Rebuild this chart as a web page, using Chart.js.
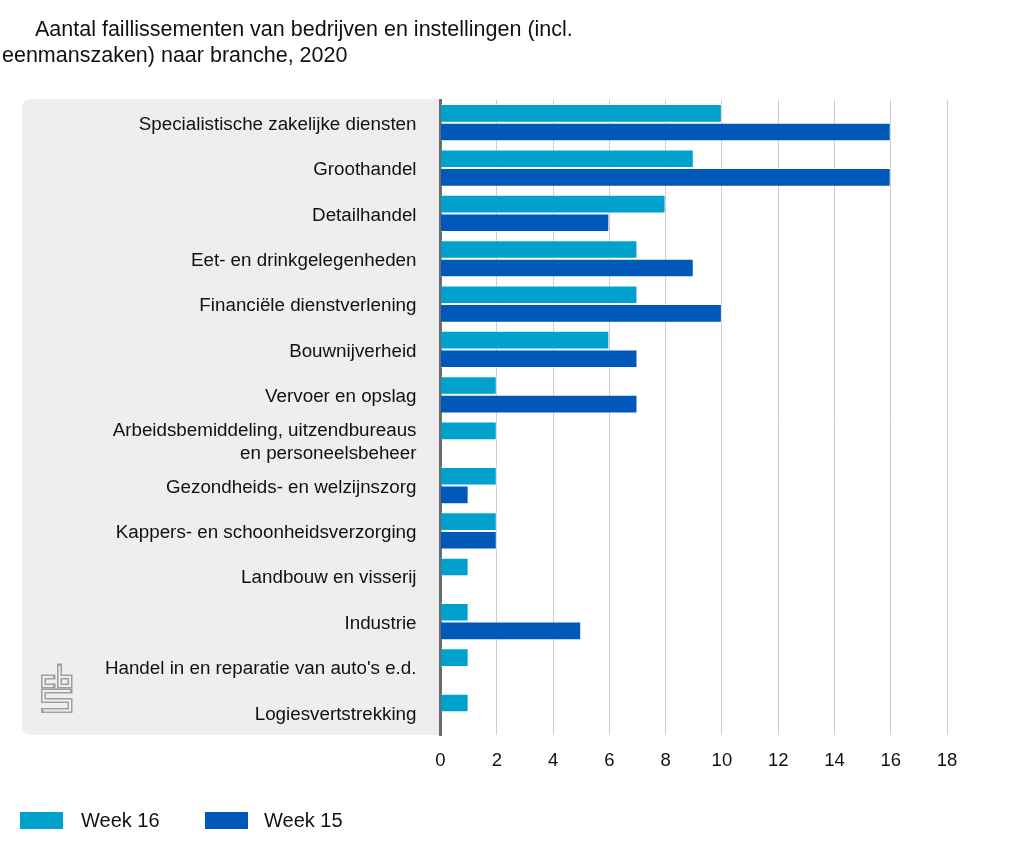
<!DOCTYPE html>
<html>
<head>
<meta charset="utf-8">
<script src="https://cdn.jsdelivr.net/npm/chart.js@4/dist/chart.umd.min.js"></script>
<style>
  html, body { margin: 0; padding: 0; background: #fff; }
  body { width: 1024px; height: 853px; position: relative; overflow: hidden; font-family: "Liberation Sans", Arial, Helvetica, sans-serif; color: #111; }
  #wrap { position: absolute; left: 0; top: 0; width: 1024px; height: 853px; }
  .t { position: absolute; font-size: 21.5px; line-height: 26px; white-space: nowrap; color: #111; }
  .lg-box { position: absolute; width: 43px; height: 17px; }
  .lg-txt { position: absolute; font-size: 20px; line-height: 24px; white-space: nowrap; color: #111; }
</style>
</head>
<body>
<div id="wrap"><canvas id="c"></canvas></div>
<div class="t" style="left:35px; top:16px;">Aantal faillissementen van bedrijven en instellingen (incl.</div>
<div class="t" style="left:2px; top:42px;">eenmanszaken) naar branche, 2020</div>
<div id="legend"></div>
<script>
const categories = [
  "Specialistische zakelijke diensten",
  "Groothandel",
  "Detailhandel",
  "Eet- en drinkgelegenheden",
  "Financiële dienstverlening",
  "Bouwnijverheid",
  "Vervoer en opslag",
  ["Arbeidsbemiddeling, uitzendbureaus", "en personeelsbeheer"],
  "Gezondheids- en welzijnszorg",
  "Kappers- en schoonheidsverzorging",
  "Landbouw en visserij",
  "Industrie",
  "Handel in en reparatie van auto's e.d.",
  "Logiesvertstrekking"
];
const seriesNames = ["Week 16", "Week 15"];
const week16 = [10, 9, 8, 7, 7, 6, 2, 2, 2, 2, 1, 1, 1, 1];
const week15 = [16, 16, 6, 9, 10, 7, 7, 0, 1, 2, 0, 5, 0, 0];
const seriesColors = ["#00a1cd", "#0058b8"];
const xTicks = [0, 2, 4, 6, 8, 10, 12, 14, 16, 18];

// legend (HTML)
const legendPos = [[20, 81], [205, 264]];
const lg = document.getElementById('legend');
seriesNames.forEach((n, i) => {
  const b = document.createElement('div');
  b.className = 'lg-box';
  b.style.left = legendPos[i][0] + 'px';
  b.style.top = '812px';
  b.style.background = seriesColors[i];
  lg.appendChild(b);
  const t = document.createElement('div');
  t.className = 'lg-txt';
  t.style.left = legendPos[i][1] + 'px';
  t.style.top = '808px';
  t.textContent = n;
  lg.appendChild(t);
});

const panelPlugin = {
  id: 'panel',
  beforeDraw(chart) {
    const ctx = chart.ctx;
    const a = chart.chartArea;
    const x0 = 22, x1 = a.left, y0 = a.top - 1, y1 = a.bottom, r = 10;
    ctx.save();
    ctx.fillStyle = '#eeeeee';
    ctx.beginPath();
    ctx.moveTo(x1, y0);
    ctx.lineTo(x0 + r, y0);
    ctx.quadraticCurveTo(x0, y0, x0, y0 + r);
    ctx.lineTo(x0, y1 - r);
    ctx.quadraticCurveTo(x0, y1, x0 + r, y1);
    ctx.lineTo(x1, y1);
    ctx.closePath();
    ctx.fill();
    // cbs logo (outlined glyphs)
    const ox = 41, oy = 665;
    const paths = [
      [[12, 12], [2.5, 12], [2.5, 21], [12, 21]],
      [[18.5, 1], [18.5, 21], [29, 21], [29, 12], [18.5, 12]],
      [[29, 26], [2.5, 26], [2.5, 35.5], [29, 35.5], [29, 45.5], [2.5, 45.5]]
    ];
    const drawPaths = (w, col, cap) => {
      ctx.strokeStyle = col;
      ctx.lineWidth = w;
      ctx.lineJoin = 'miter';
      ctx.lineCap = cap;
      paths.forEach(p => {
        ctx.beginPath();
        p.forEach((pt, k) => k ? ctx.lineTo(ox + pt[0], oy + pt[1]) : ctx.moveTo(ox + pt[0], oy + pt[1]));
        ctx.stroke();
      });
    };
    drawPaths(5, '#a0a0a0', 'square');
    drawPaths(2, '#eeeeee', 'butt');
    ctx.restore();
  }
};

new Chart(document.getElementById('c'), {
  type: 'bar',
  data: {
    labels: categories,
    datasets: [
      { label: seriesNames[0], data: week16, backgroundColor: seriesColors[0] },
      { label: seriesNames[1], data: week15, backgroundColor: seriesColors[1] }
    ]
  },
  options: {
    indexAxis: 'y',
    responsive: true,
    maintainAspectRatio: false,
    animation: false,
    datasets: {
      bar: {
        categoryPercentage: 0.82,
        barPercentage: 1.0,
        borderWidth: ctx => (ctx.raw ? 1 : 0),
        borderColor: 'rgba(255,255,255,0.45)',
        borderSkipped: 'start'
      }
    },
    layout: { padding: { left: 22, right: 77, top: 100, bottom: 78 } },
    plugins: {
      legend: { display: false },
      title: { display: false },
      tooltip: { enabled: false }
    },
    scales: {
      x: {
        type: 'linear',
        min: 0,
        max: 18,
        afterFit: s => { s.height = 40; },
        afterBuildTicks: s => { s.ticks = xTicks.map(v => ({ value: v })); },
        ticks: {
          padding: 15,
          color: '#111',
          font: { family: '"Liberation Sans", Arial, sans-serif', size: 18.5 }
        },
        grid: {
          drawTicks: false,
          color: ctx => (ctx.tick && ctx.tick.value === 0 ? 'rgba(0,0,0,0)' : '#cccccc'),
          lineWidth: 1
        },
        border: { display: false }
      },
      y: {
        z: 1,
        afterFit: s => { s.width = 418.5; },
        ticks: {
          autoSkip: false,
          padding: 24,
          labelOffset: 2,
          color: '#111',
          font: { family: '"Liberation Sans", Arial, sans-serif', size: 18.8, lineHeight: 1.22 }
        },
        grid: { display: false, drawTicks: false },
        border: { display: true, color: '#6b6b6b', width: 3 }
      }
    }
  },
  plugins: [panelPlugin]
});
</script>
</body>
</html>
